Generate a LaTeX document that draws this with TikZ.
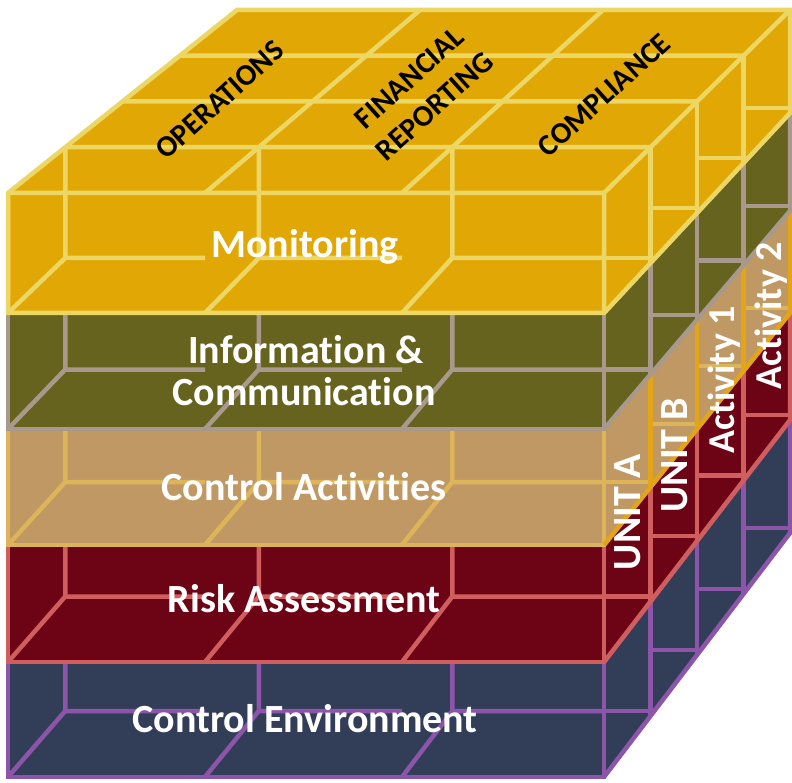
\documentclass[tikz,border=0pt]{standalone}
\usepackage{fontspec}
\setmainfont{Carlito}[Ligatures=NoCommon]
\definecolor{monfill}{HTML}{E1A805}
\definecolor{monline}{HTML}{ECD664}
\definecolor{infofill}{HTML}{65631D}
\definecolor{infoline}{HTML}{A8998C}
\definecolor{cafill}{HTML}{BF9864}
\definecolor{caline}{HTML}{DEB45A}
\definecolor{caside}{HTML}{E3A516}
\definecolor{riskfill}{HTML}{6C0416}
\definecolor{riskline}{HTML}{D05E5E}
\definecolor{cefill}{HTML}{323E58}
\definecolor{celine}{HTML}{8C55AA}
\tikzset{
  grid/.style={line width=4.5pt, line join=miter},
  lbl/.style={font=\fontsize{40}{44}\selectfont\bfseries, text=white, inner sep=0pt, anchor=base},
  toplbl/.style={font=\fontsize{30}{38}\selectfont\bfseries, text=black, inner sep=0pt, rotate=42, align=center},
  sidelbl/.style={font=\fontsize{40}{44}\selectfont\bfseries, text=white, inner sep=0pt, rotate=90},
}
% #1 fill, #2 line, #3 side line, #4 Ftop, #5 Fbot, #6 Btop, #7 Bbot
\newcommand\cubeslab[7]{%
  \pgfmathsetmacro\ya{#5+0.25*(#7-#5)-5}%
  \pgfmathsetmacro\yb{#5+0.5*(#7-#5)-5}%
  \pgfmathsetmacro\yc{#5+0.75*(#7-#5)-5}%
  \pgfmathsetmacro\yd{#7-5}%
  \fill[#1] (8,#5) -- (8,#4) -- (604,#4) -- (790,#6) -- (790,#7) -- (604,#5) -- cycle;
  \begin{scope}
    \clip (8,#5) -- (8,#4) -- (604,#4) -- (790,#6) -- (790,#7) -- (604,#5) -- cycle;
    \draw[grid,#2] (65.25,#4) -- (65.25,\ya) -- (205,\ya) (8,#5) -- (65.25,\ya)
      (258.75,#4) -- (258.75,\ya) -- (402,\ya) (205,#5) -- (258.75,\ya)
      (452.25,#4) -- (452.25,\ya) -- (604,\ya) (402,#5) -- (452.25,\ya);
    \draw[grid,#2] (604,\ya) -- (650.5,\ya) (650.5,\yb) -- (697,\yb)
      (697,\yc) -- (743.5,\yc) (743.5,\yd) -- (790,\yd);
    \draw[grid,#3] (650.5,#6) -- (650.5,#5) (697,#6) -- (697,#5) (743.5,#6) -- (743.5,#5);
  \end{scope}
  \draw[grid,#2] (604,#4) -- (8,#4) -- (8,#5) -- (604,#5) -- cycle;
  \draw[grid,#3] (604,#4) -- (790,#6) -- (790,#7) -- (604,#5);
}
\begin{document}
\begin{tikzpicture}[x=1pt,y=-1pt]
\useasboundingbox (0,0) rectangle (792,783);
% lower slabs, bottom first
\cubeslab{cefill}{celine}{celine}{662}{777}{420}{533}
\cubeslab{riskfill}{riskline}{riskline}{545}{662}{313}{420}
\cubeslab{cafill}{caline}{caside}{429}{545}{211}{313}
\cubeslab{infofill}{infoline}{infoline}{313}{429}{113}{211}
% top slab: Monitoring
\fill[monfill] (8,313) -- (8,193) -- (237,10) -- (790,10) -- (790,113) -- (604,313) -- cycle;
\begin{scope}
  \clip (8,313) -- (8,193) -- (237,10) -- (790,10) -- (790,113) -- (604,313) -- cycle;
  \draw[grid,monline] (65.25,147.25) -- (65.25,258) -- (205,258) (8,313) -- (65.25,258)
    (258.75,147.25) -- (258.75,258) -- (402,258) (205,313) -- (258.75,258)
    (452.25,147.25) -- (452.25,258) -- (604,258) (402,313) -- (452.25,258);
  \draw[grid,monline] (604,258) -- (650.5,258) (650.5,208) -- (697,208)
    (697,158) -- (743.5,158) (743.5,108) -- (790,108)
    (650.5,147.25) -- (650.5,313) (697,101.5) -- (697,313) (743.5,55.75) -- (743.5,313);
  \draw[grid,monline] (65.25,147.25) -- (650.5,147.25) (122.5,101.5) -- (697,101.5)
    (179.75,55.75) -- (743.5,55.75) (205,193) -- (420,10) (402,193) -- (603,10);
\end{scope}
\draw[grid,monline] (8,193) -- (8,313) -- (604,313) -- (790,113) -- (790,10) -- (237,10) -- cycle;
\draw[grid,monline] (8,193) -- (604,193) -- (790,10) (604,193) -- (604,313);
% front labels
\node[lbl] (mon) at (305,258) {Monitoring};
\node[lbl] (info1) at (306,363) {Information \&};
\node[lbl] (info2) at (304,405) {Communication};
\node[lbl] (ca) at (304,500) {Control Activities};
\node[lbl] (risk) at (304,612) {Risk Assessment};
\node[lbl] (ce) at (305,732) {Control Environment};
% top labels
\node[toplbl] (ops) at (220,100) {OPERATIONS};
\node[toplbl] (fin) at (422,92) {FINANCIAL\\REPORTING};
\node[toplbl] (comp) at (604,95) {COMPLIANCE};
% side labels
\node[sidelbl] (ua) at (628,512) {UNIT A};
\node[sidelbl] (ub) at (675,455) {UNIT B};
\node[sidelbl,font=\fontsize{38}{42}\selectfont\bfseries] (a1) at (724,380) {Activity 1};
\node[sidelbl,font=\fontsize{38}{42}\selectfont\bfseries] (a2) at (771,316) {Activity 2};
\end{tikzpicture}
\end{document}
